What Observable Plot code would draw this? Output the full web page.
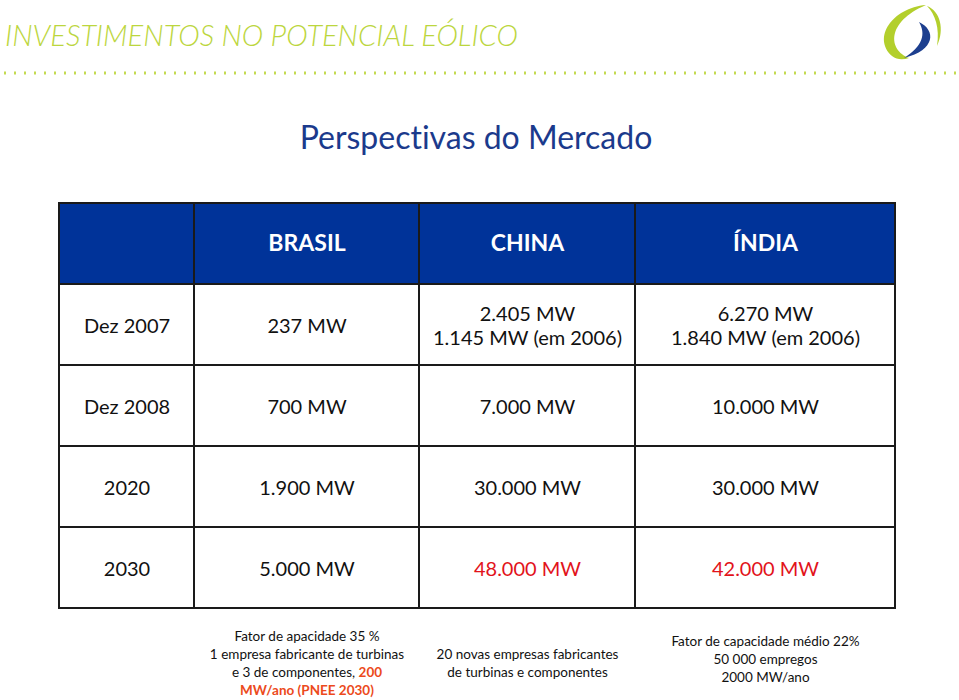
<!DOCTYPE html>
<html>
<head>
<meta charset="utf-8">
<script src="https://cdn.jsdelivr.net/npm/d3@7"></script>
<script src="https://cdn.jsdelivr.net/npm/@observablehq/plot@0.6"></script>
<style>
  body { margin: 0; background: #fff; width: 959px; height: 700px; overflow: hidden; font-family: Lato, "Open Sans", sans-serif; font-variant-ligatures: none; }
  text, tspan { font-variant-ligatures: none; }
  #head { position: relative; width: 959px; height: 195px; }
  #head svg { position: absolute; left: 0; top: 0; }
  #chart svg { display: block; }
</style>
</head>
<body>
<div id="head">
  <svg width="959" height="195">
    <text x="5" y="46" textLength="513" lengthAdjust="spacingAndGlyphs" font-family="Lato, sans-serif" font-weight="300" font-style="italic" font-size="30" fill="#bcd63e">INVESTIMENTOS NO POTENCIAL EÓLICO</text>
    <line x1="4" x2="959" y1="73" y2="73" stroke="#c3da50" stroke-width="3" stroke-dasharray="2 8"></line>
    <path d="M 926 5 C 892 8, 872 38, 892 56 C 897 60, 903 60, 909 58 C 888 50, 886 22, 926 5 Z" fill="#b3cf2c"></path>
    <path d="M 927 6 C 940 11, 945 29, 937 46 C 940 28, 935 14, 927 6 Z" fill="#b3cf2c"></path>
    <path d="M 919 22 C 936 30, 936 50, 904 58 C 923 46, 926 34, 919 22 Z" fill="#1d3f8f"></path>
    <text x="476" y="149" text-anchor="middle" font-family="Lato, sans-serif" font-size="32" fill="#1b3a8c">Perspectivas do Mercado</text>
  </svg>
</div>
<div id="chart"></div>
<script>
// ---- data ----
const countries = ["BRASIL", "CHINA", "ÍNDIA"];
const periods = ["Dez 2007", "Dez 2008", "2020", "2030"];
const brasil = ["237 MW", "700 MW", "1.900 MW", "5.000 MW"];
const china = ["2.405 MW\n1.145 MW (em 2006)", "7.000 MW", "30.000 MW", "48.000 MW"];
const india = ["6.270 MW\n1.840 MW (em 2006)", "10.000 MW", "30.000 MW", "42.000 MW"];
const highlightPeriod = "2030";           // China & Índia values shown in red
const notesBrasil = ["Fator de apacidade 35 %", "1 empresa fabricante de turbinas", "e 3 de componentes, 200", "MW/ano (PNEE 2030)"];
const notesChina = ["20 novas empresas fabricantes", "de turbinas e componentes"];
const notesIndia = ["Fator de capacidade médio 22%", "50 000 empregos", "2000 MW/ano"];
const notesHighlight = ["200", "MW/ano (PNEE 2030)"];

// ---- layout / style ----
const colWidths = [135, 225, 216, 260];
const noteOffsets = [13, 13, 9];
const headerBlue = "#003399";
const red = "#e2131b";
const noteRed = "#ec4a1c";

const edges = [0];
colWidths.forEach(w => edges.push(edges[edges.length - 1] + w));
const total = edges[edges.length - 1];
const center = i => (edges[i] + edges[i + 1]) / 2;
const rowKeys = ["head", ...periods, "notes"];

const cells = [];
["head", ...periods].forEach(r => colWidths.forEach((w, i) => cells.push({row: r, x1: edges[i], x2: edges[i + 1]})));

const headTexts = countries.map((c, i) => ({row: "head", x: center(i + 1), text: c}));
const bodyTexts = [];
periods.forEach((p, j) => {
  bodyTexts.push({row: p, x: center(0), text: p, color: "#111"});
  bodyTexts.push({row: p, x: center(1), text: brasil[j], color: "#111"});
  bodyTexts.push({row: p, x: center(2), text: china[j], color: p === highlightPeriod ? red : "#111"});
  bodyTexts.push({row: p, x: center(3), text: india[j], color: p === highlightPeriod ? red : "#111"});
});
const notes = [notesBrasil, notesChina, notesIndia].map((lines, i) => ({row: "notes", x: center(i + 1), text: lines.join("\n"), dy: noteOffsets[i]}));

const chart = Plot.plot({
  width: 959,
  height: 505,
  marginLeft: 59,
  marginRight: 959 - 59 - total,
  marginTop: 7,
  marginBottom: 9.6,
  x: {domain: [0, total], axis: null},
  y: {domain: rowKeys, axis: null, padding: 0},
  color: {type: "identity"},
  style: {fontFamily: "Lato, 'Open Sans', sans-serif", background: "white", overflow: "visible"},
  marks: [
    Plot.barX([{row: "head"}], {x1: () => 0, x2: () => total, y: "row", fill: headerBlue}),
    Plot.barX(cells, {x1: "x1", x2: "x2", y: "row", fill: "none", stroke: "#1a1a1a", strokeWidth: 2}),
    Plot.text(headTexts, {x: "x", y: "row", text: "text", fill: "white", fontSize: 23, fontWeight: "bold"}),
    Plot.text(bodyTexts, {x: "x", y: "row", text: "text", fill: "color", fontSize: 20, lineHeight: 1.2}),
    ...notes.map(n => Plot.text([n], {x: "x", y: "row", text: "text", dy: n.dy, fill: "#111", fontSize: 13.5, lineHeight: 18 / 13.5}))
  ]
});

// colour the highlighted parts of the notes
d3.select(chart).selectAll("tspan").each(function () {
  const t = this.textContent;
  const sel = d3.select(this);
  notesHighlight.forEach(h => {
    if (t === h) {
      sel.attr("fill", noteRed).attr("font-weight", "bold");
    } else if (t.endsWith(" " + h)) {
      sel.text(t.slice(0, t.length - h.length));
      sel.append("tspan").attr("fill", noteRed).attr("font-weight", "bold").text(h);
    }
  });
});

document.getElementById("chart").appendChild(chart);
</script>
</body>
</html>
